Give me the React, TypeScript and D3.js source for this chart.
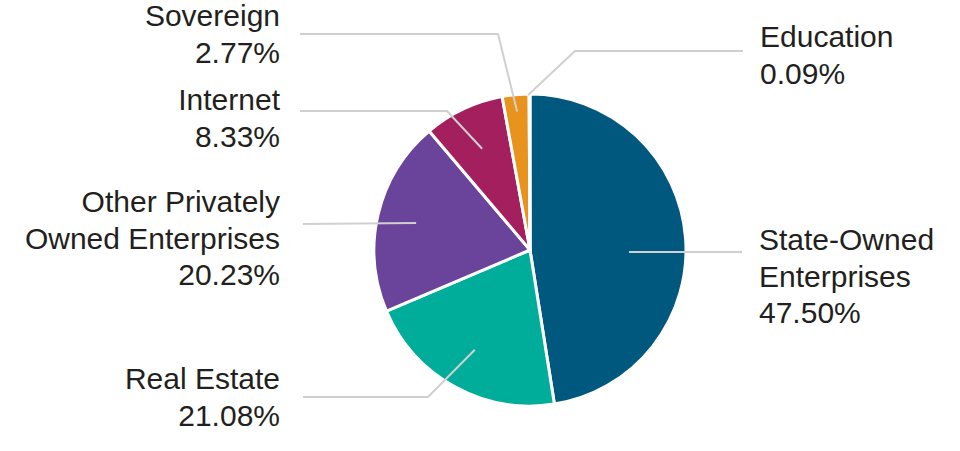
import React from "react";
import * as d3 from "d3";

const categories = [
  "State-Owned Enterprises",
  "Real Estate",
  "Other Privately Owned Enterprises",
  "Internet",
  "Sovereign",
  "Education",
];
const values = [47.5, 21.08, 20.23, 8.33, 2.77, 0.09];
const labelLines = [
  ["State-Owned", "Enterprises", "47.50%"],
  ["Real Estate", "21.08%"],
  ["Other Privately", "Owned Enterprises", "20.23%"],
  ["Internet", "8.33%"],
  ["Sovereign", "2.77%"],
  ["Education", "0.09%"],
];
const colors = ["#00587f", "#00ad9a", "#6a449b", "#a31f5e", "#e8931e", "#8fc8e8"];

// label layout (annotation geometry)
const leaderLayout = [
  { r: 99, angle: 91, elbowX: null, elbowY: 252, endX: 742, side: "right", textX: 759, baseY: 250 },
  { r: 114, angle: null, elbowX: 428, elbowY: 397, endX: 303, side: "left", textX: 280, baseY: 389 },
  { r: 117, angle: null, elbowX: null, elbowY: 224, endX: 303, side: "left", textX: 280, baseY: 212 },
  { r: 112, angle: null, elbowX: 447, elbowY: 111, endX: 300, side: "left", textX: 280, baseY: 110 },
  { r: 139, angle: null, elbowX: 498, elbowY: 34, endX: 300, side: "left", textX: 280, baseY: 26 },
  { r: 155, angle: 359.3, elbowX: 575, elbowY: 51, endX: 743, side: "right", textX: 760, baseY: 47 },
];

const W = 960;
const H = 451;
const cx = 530;
const cy = 250;
const R = 156;
const LINE_H = 36.5;

export default function App() {
  const data = categories.map((c, i) => ({ name: c, value: values[i], i }));
  const pie = d3
    .pie<any>()
    .sort(null)
    .value((d: any) => d.value)
    .startAngle(0)
    .endAngle(2 * Math.PI);
  const arcs = pie(data);
  const arc = d3.arc<any>().innerRadius(0).outerRadius(R);

  return (
    <svg
      width={W}
      height={H}
      style={{ position: "absolute", left: 0, top: 0, background: "#fff" }}
      fontFamily="'Liberation Sans', Arial, Helvetica, sans-serif"
    >
      <g transform={`translate(${cx},${cy})`}>
        {arcs.map((a, i) => (
          <path key={i} d={arc(a) as string} fill={colors[i]} stroke="#fff" strokeWidth={3} strokeLinejoin="round" />
        ))}
      </g>
      {arcs.map((a, i) => {
        const L = leaderLayout[i];
        const mid = L.angle != null ? (L.angle * Math.PI) / 180 : (a.startAngle + a.endAngle) / 2;
        const x0 = cx + L.r * Math.sin(mid);
        const y0 = L.angle === 91 ? L.elbowY : cy - L.r * Math.cos(mid);
        const pts: [number, number][] = [[x0, y0]];
        if (L.elbowX != null) pts.push([L.elbowX, L.elbowY]);
        pts.push([L.endX, L.elbowY]);
        const line = d3.line()(pts) as string;
        return (
          <path key={"l" + i} d={line} fill="none" stroke="#d0d0d0" strokeWidth={2} />
        );
      })}
      {labelLines.map((lines, i) => {
        const L = leaderLayout[i];
        return (
          <text
            key={"t" + i}
            x={L.textX}
            y={L.baseY}
            fontSize={30}
            fill="#231f20"
            textAnchor={L.side === "left" ? "end" : "start"}
          >
            {lines.map((ln, j) => (
              <tspan key={j} x={L.textX} y={L.baseY + j * LINE_H}>
                {ln}
              </tspan>
            ))}
          </text>
        );
      })}
    </svg>
  );
}
